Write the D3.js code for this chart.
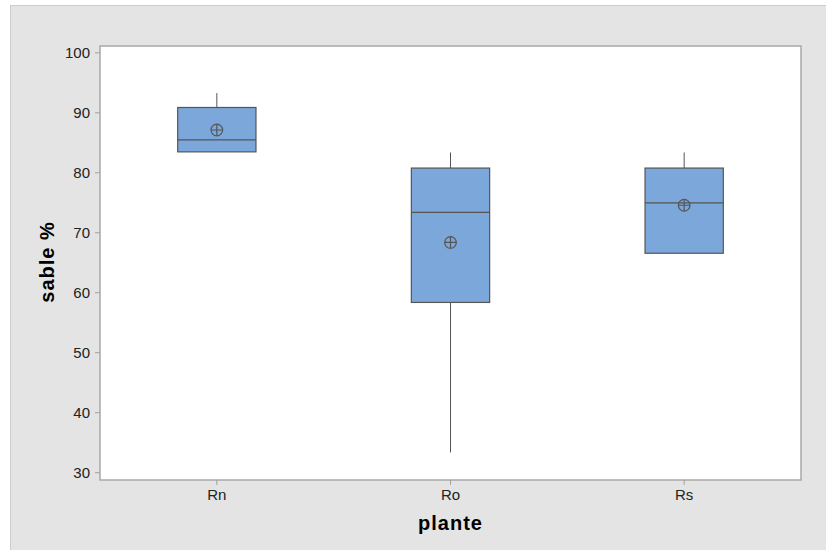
<!DOCTYPE html>
<html>
<head>
<meta charset="utf-8">
<script src="https://cdn.jsdelivr.net/npm/d3@7"></script>
<style>
  html, body { margin: 0; background: #fff; overflow: hidden; }
  svg { display: block; font-family: "Liberation Sans", Arial, sans-serif; }
  .axis path { display: none; }
  .axis line { stroke: #a0a0a0; }
  .axis text { fill: #222; font-size: 15px; }
</style>
</head>
<body>
<div id="chart"></div>
<script>
// Box plot values
let plantes = ["Rn", "Ro", "Rs"];
let minima  = [83.4, 33.3, 66.5];
let q1s     = [83.4, 58.3, 66.5];
let medians = [85.4, 73.3, 74.9];
let q3s     = [90.8, 80.7, 80.7];
let maxima  = [93.2, 83.3, 83.3];
let means   = [87.05, 68.3, 74.5];
let yTicks  = [30, 40, 50, 60, 70, 80, 90, 100];

let boxes = plantes.map((p, i) => ({
    plante: p, min: minima[i], q1: q1s[i], median: medians[i],
    q3: q3s[i], max: maxima[i], mean: means[i]
}));

let fullW = 826, fullH = 550;
let margin = {top: 46, right: 25, bottom: 70, left: 100};
let width = fullW - margin.left - margin.right,
    height = fullH - margin.top - margin.bottom;

let svg = d3.select("#chart").append("svg")
    .attr("width", fullW)
    .attr("height", fullH);

// outer grey panel (only top and left edges fall inside the picture)
svg.append("rect")
    .attr("x", 10.5).attr("y", 5.5)
    .attr("width", fullW + 40).attr("height", fullH + 40)
    .attr("fill", "#e4e4e4")
    .attr("stroke", "#cccccc");

let g = svg.append("g")
    .attr("transform", `translate(${margin.left},${margin.top})`);

g.append("rect")
    .attr("width", width)
    .attr("height", height)
    .attr("fill", "#fff");

let xScale = d3.scaleBand()
    .domain(plantes)
    .range([0, width]);

let yScale = d3.scaleLinear()
    .domain([28.7, 101.05])
    .range([height, 0]);

let boxW = xScale.bandwidth() * 0.335;
let cx = d => xScale(d.plante) + xScale.bandwidth() / 2;

// whiskers
g.selectAll(".whisker-top")
    .data(boxes)
    .enter().append("line")
    .attr("x1", cx).attr("x2", cx)
    .attr("y1", d => yScale(d.q3))
    .attr("y2", d => yScale(d.max))
    .attr("stroke", "#555").attr("stroke-width", 1);

g.selectAll(".whisker-bottom")
    .data(boxes)
    .enter().append("line")
    .attr("x1", cx).attr("x2", cx)
    .attr("y1", d => yScale(d.q1))
    .attr("y2", d => yScale(d.min))
    .attr("stroke", "#555").attr("stroke-width", 1);

// boxes
g.selectAll(".box")
    .data(boxes)
    .enter().append("rect")
    .attr("class", "box")
    .attr("x", d => cx(d) - boxW / 2)
    .attr("width", boxW)
    .attr("y", d => yScale(d.q3))
    .attr("height", d => yScale(d.q1) - yScale(d.q3))
    .attr("fill", "#7ba7da")
    .attr("stroke", "#555")
    .attr("stroke-width", 1.2);

// medians
g.selectAll(".median")
    .data(boxes)
    .enter().append("line")
    .attr("x1", d => cx(d) - boxW / 2)
    .attr("x2", d => cx(d) + boxW / 2)
    .attr("y1", d => yScale(d.median))
    .attr("y2", d => yScale(d.median))
    .attr("stroke", "#555").attr("stroke-width", 1.2);

// mean symbols (circle with cross)
let meanG = g.selectAll(".mean")
    .data(boxes)
    .enter().append("g")
    .attr("transform", d => `translate(${cx(d)},${yScale(d.mean)})`);

meanG.append("circle")
    .attr("r", 5.8)
    .attr("fill", "none")
    .attr("stroke", "#555")
    .attr("stroke-width", 1.2);
meanG.append("path")
    .attr("d", "M-5.8,0H5.8M0,-5.8V5.8")
    .attr("stroke", "#555")
    .attr("stroke-width", 1.2);

// plot border
g.append("rect")
    .attr("width", width)
    .attr("height", height)
    .attr("fill", "none")
    .attr("stroke", "#a8a8a8")
    .attr("stroke-width", 1.5);

g.append("g")
    .attr("class", "axis")
    .call(d3.axisLeft(yScale).tickValues(yTicks).tickSize(5).tickPadding(5));

g.append("g")
    .attr("class", "axis")
    .attr("transform", `translate(0,${height})`)
    .call(d3.axisBottom(xScale).tickSize(5).tickPadding(4));

// axis titles
svg.append("text")
    .attr("transform", `translate(54,262) rotate(-90)`)
    .attr("text-anchor", "middle")
    .style("font-size", "20px")
    .style("font-weight", "bold")
    .style("letter-spacing", "1px")
    .text("sable %");

svg.append("text")
    .attr("x", margin.left + width / 2)
    .attr("y", 530)
    .attr("text-anchor", "middle")
    .style("font-size", "20px")
    .style("font-weight", "bold")
    .style("letter-spacing", "1px")
    .text("plante");
</script>
</body>
</html>
